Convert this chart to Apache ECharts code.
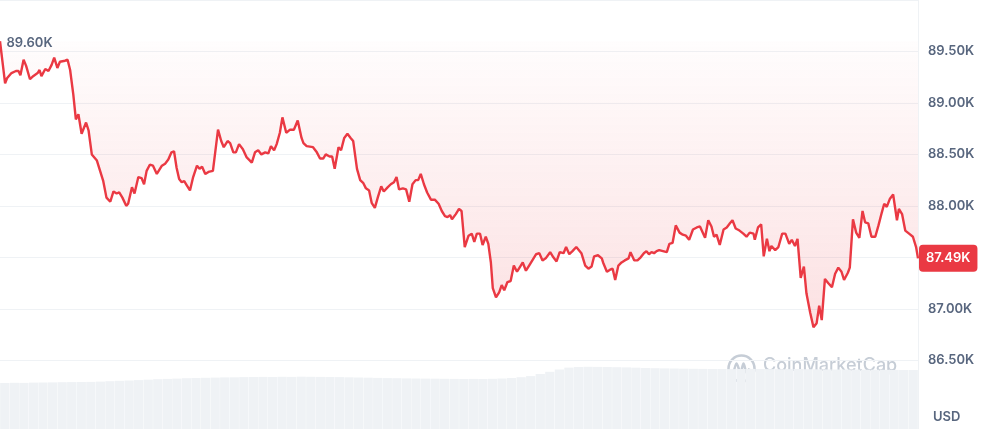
<!DOCTYPE html>
<html><head><meta charset="utf-8">
<script src="https://cdn.jsdelivr.net/npm/echarts@6/dist/echarts.min.js"></script>
<style>html,body{margin:0;padding:0;background:#fff}#c{width:984px;height:429px}</style>
</head><body><div id="c"></div>
<script>
// minutes since start of the 24h window
const times = [0,8,11,18,25,29,32,37,41,47,52,59,62,65,71,76,81,85,90,94,102,106,110,115,119,123,128,135,139,144,152,157,162,167,173,178,183,187,192,198,201,207,211,217,222,226,230,235,240,246,254,259,264,269,273,277,281,285,289,293,298,303,309,313,317,322,327,334,337,342,347,351,357,361,366,370,375,381,387,392,395,400,405,410,416,421,425,430,434,439,443,449,455,461,467,473,476,481,491,497,502,507,511,517,521,525,531,535,540,545,550,554,560,565,570,574,579,583,588,593,598,602,608,613,618,622,626,632,637,642,647,652,656,660,665,670,676,682,688,693,698,702,706,709,715,720,724,729,735,740,744,748,753,757,762,766,770,773,778,783,787,791,796,801,806,811,816,820,825,830,836,841,846,851,856,863,868,873,878,884,888,893,898,904,907,912,918,923,928,932,938,944,946,952,957,961,965,970,975,980,986,989,995,1000,1005,1010,1014,1018,1022,1026,1030,1034,1040,1046,1050,1055,1060,1066,1071,1076,1081,1087,1093,1098,1106,1111,1116,1120,1124,1129,1135,1140,1145,1149,1154,1160,1166,1171,1176,1182,1184,1189,1194,1198,1203,1207,1210,1216,1221,1227,1232,1238,1242,1247,1251,1256,1261,1265,1271,1276,1281,1285,1289,1294,1299,1305,1310,1315,1320,1324,1330,1333,1338,1343,1348,1353,1357,1362,1367,1373,1378,1383,1387,1391,1396,1401,1407,1410,1415,1420,1426,1432,1437,1440];
// BTC price in thousands USD
const prices = [89.60,89.19,89.24,89.29,89.31,89.31,89.27,89.42,89.36,89.23,89.26,89.29,89.32,89.26,89.33,89.31,89.37,89.44,89.34,89.40,89.41,89.42,89.32,89.08,88.84,88.89,88.70,88.81,88.73,88.50,88.44,88.34,88.24,88.08,88.04,88.14,88.12,88.13,88.08,88.00,88.02,88.18,88.12,88.28,88.27,88.21,88.34,88.40,88.39,88.31,88.39,88.41,88.45,88.52,88.53,88.37,88.26,88.23,88.24,88.20,88.15,88.28,88.39,88.36,88.38,88.31,88.33,88.34,88.49,88.74,88.63,88.57,88.63,88.61,88.52,88.52,88.60,88.55,88.47,88.44,88.42,88.52,88.54,88.50,88.52,88.51,88.58,88.54,88.60,88.71,88.86,88.71,88.74,88.74,88.83,88.66,88.61,88.58,88.57,88.52,88.46,88.46,88.50,88.48,88.48,88.36,88.57,88.54,88.66,88.70,88.66,88.63,88.36,88.25,88.22,88.17,88.15,88.03,87.98,88.09,88.19,88.14,88.18,88.21,88.23,88.28,88.16,88.17,88.16,88.04,88.21,88.25,88.25,88.31,88.21,88.13,88.06,88.06,88.02,87.95,87.90,87.89,87.91,87.87,87.92,87.97,87.95,87.60,87.71,87.73,87.65,87.73,87.73,87.62,87.70,87.63,87.45,87.20,87.11,87.16,87.23,87.18,87.26,87.27,87.42,87.36,87.41,87.45,87.37,87.42,87.48,87.53,87.54,87.47,87.49,87.55,87.50,87.46,87.55,87.54,87.60,87.53,87.56,87.60,87.60,87.54,87.42,87.39,87.41,87.51,87.52,87.49,87.45,87.36,87.38,87.39,87.28,87.42,87.45,87.47,87.49,87.55,87.47,87.47,87.50,87.54,87.56,87.53,87.55,87.54,87.56,87.57,87.56,87.55,87.63,87.64,87.81,87.74,87.72,87.71,87.67,87.77,87.79,87.80,87.69,87.86,87.80,87.70,87.72,87.62,87.77,87.79,87.83,87.86,87.78,87.76,87.73,87.70,87.74,87.73,87.67,87.79,87.82,87.51,87.68,87.56,87.61,87.57,87.60,87.73,87.73,87.63,87.67,87.61,87.68,87.30,87.41,87.15,86.96,86.82,86.86,87.03,86.89,87.29,87.25,87.21,87.34,87.40,87.36,87.28,87.35,87.40,87.87,87.74,87.69,87.95,87.84,87.83,87.70,87.70,87.81,87.93,88.02,87.99,88.07,88.11,87.86,87.97,87.92,87.76,87.73,87.70,87.60,87.49];
// volume (relative units), 15-minute buckets
const volumes = [46.0,46.2,46.1,46.4,46.5,46.6,46.8,46.9,47.0,47.1,
47.4,47.8,48.2,48.5,48.9,49.3,49.8,50.1,50.4,50.8,
51.0,51.2,51.4,51.6,51.7,51.9,52.0,52.1,52.0,52.2,
52.1,52.3,52.2,52.1,52.0,51.9,51.7,51.5,51.3,51.1,
50.9,50.8,50.6,50.5,50.4,50.3,50.2,50.1,50.0,50.1,
50.0,50.2,50.5,51.0,51.8,52.9,55.0,57.2,59.5,61.4,
62.0,62.2,62.1,62.0,61.8,61.6,61.3,61.0,60.8,60.6,
60.5,60.3,60.2,60.1,60.0,60.0,59.9,60.0,60.1,60.0,
59.9,59.8,59.9,60.0,59.8,59.7,59.6,59.5,59.5,59.4,
59.3,59.3,59.2,59.1,59.0,59.0];
const priceMin = 86.5, priceMax = 90, priceStep = 0.5;
const currency = 'USD';
const brand = 'CoinMarketCap';

const RED = '#ea3943', GRAY = '#58667e', FONT = 'Inter';
const chart = echarts.init(document.getElementById('c'), null, {renderer:'canvas'});
const fmtK = v => Number(v).toFixed(2) + 'K';
const last = prices[prices.length - 1];

chart.setOption({
  animation: false,
  grid: [
    {left: 0, right: 66, top: -2, height: 362.25},
    {left: 0, right: 66, top: 340, bottom: 0}
  ],
  xAxis: [
    {type: 'value', gridIndex: 0, min: 0, max: 1440, show: false},
    {type: 'category', gridIndex: 1, data: volumes.map((_, i) => i), show: false}
  ],
  yAxis: [
    {type: 'value', gridIndex: 0, position: 'right', min: priceMin, max: priceMax, interval: priceStep,
     axisLine: {show: false}, axisTick: {show: false},
     splitLine: {lineStyle: {color: '#eff2f5', width: 1}},
     axisLabel: {margin: 10, color: GRAY, fontFamily: FONT, fontSize: 13, fontWeight: 600,
                 showMaxLabel: false, formatter: fmtK}},
    {type: 'value', gridIndex: 1, min: 0, max: 89, show: false}
  ],
  series: [
    {type: 'bar', xAxisIndex: 1, yAxisIndex: 1, data: volumes, barCategoryGap: '3%',
     itemStyle: {color: '#eff2f5'}, silent: true, z: 1},
    {type: 'line', xAxisIndex: 0, yAxisIndex: 0, data: times.map((t, i) => [t, prices[i]]),
     symbol: 'none', z: 3, clip: false,
     lineStyle: {color: RED, width: 2.4},
     areaStyle: {origin: prices[0], color: {type: 'linear', x: 0, y: 0, x2: 0, y2: 1,
       colorStops: [{offset: 0, color: 'rgba(234,57,67,0.015)'}, {offset: 1, color: 'rgba(234,57,67,0.22)'}]}},
     markPoint: {silent: true, symbol: 'circle', symbolSize: 1, itemStyle: {color: 'rgba(0,0,0,0)'},
       data: [{type: 'max'}],
       label: {show: true, position: 'right', distance: 6, offset: [0, 2], formatter: p => fmtK(p.value),
               color: GRAY, fontFamily: FONT, fontSize: 13, fontWeight: 600}},
     markLine: {silent: true, symbol: ['none', 'none'], lineStyle: {color: 'rgba(0,0,0,0)', width: 0, type: 'solid'},
       data: [{yAxis: last}],
       label: {show: true, position: 'end', distance: 1, formatter: p => fmtK(p.value),
               backgroundColor: RED, color: '#fff', padding: [7, 7, 7, 7], borderRadius: 4,
               fontFamily: FONT, fontSize: 13, fontWeight: 600}}}
  ],
  graphic: [
    {type: 'line', shape: {x1: 918.5, y1: 0, x2: 918.5, y2: 429}, style: {stroke: '#eff2f5', lineWidth: 1}, z: 0},
    {type: 'text', left: 933, top: 411, style: {text: currency, fill: GRAY, font: '600 13px Inter'}},
    {type: 'group', left: 726, top: 353, children: [
      {type: 'circle', shape: {cx: 14, cy: 14, r: 13}, style: {fill: 'none', stroke: '#c6cdd6', lineWidth: 2.5}},
      {type: 'polyline', shape: {points: [[6, 19], [9, 9], [13, 18], [16, 9], [19, 18], [22, 14]], smooth: 0.3},
       style: {fill: 'none', stroke: '#c6cdd6', lineWidth: 2.5}}
    ]},
    {type: 'text', left: 763, top: 357, style: {text: brand, fill: '#c6cdd6', font: '500 18px Inter'}}
  ]
});
</script></body></html>
